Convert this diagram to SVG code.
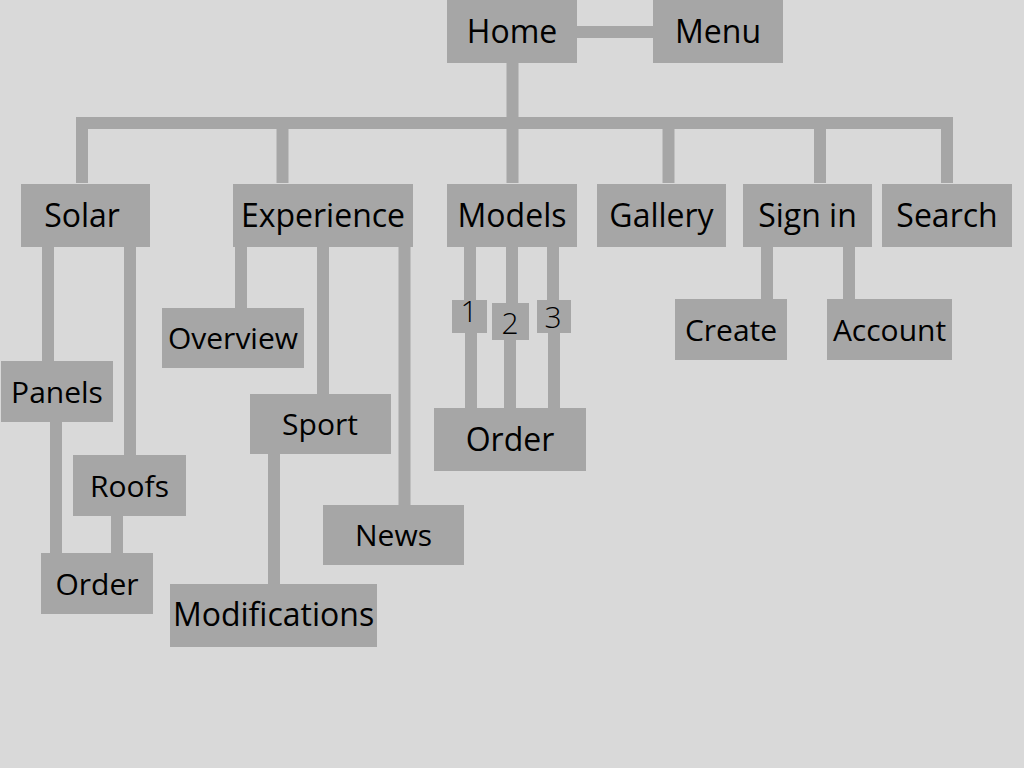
<svg xmlns="http://www.w3.org/2000/svg" width="1024" height="768" viewBox="0 0 1024 768">
<style>
.bg{fill:#d9d9d9}
.n rect{fill:#a6a6a6}
.n text{font-family:"Open Sans","Noto Sans","Liberation Sans",sans-serif;font-size:32px;fill:#000;text-anchor:middle}
.n text.s{font-size:30px}
.n text.num{font-weight:300;font-size:30px}
.c{stroke:#a6a6a6;stroke-width:12;fill:none;stroke-linecap:butt;stroke-linejoin:miter}
</style>
<rect class="bg" x="0" y="0" width="1024" height="768"/>
<g id="connectors" class="c">
<path d="M577,32 H653"/>
<path d="M512.5,63 V183"/>
<path d="M82,183 V123 H947 V183"/>
<path d="M282.5,123 V183"/>
<path d="M668.5,123 V183"/>
<path d="M820,123 V183"/>
<path d="M48,247 V361"/>
<path d="M130,247 V455"/>
<path d="M56,422 V553"/>
<path d="M117,516 V553"/>
<path d="M241,247 V308"/>
<path d="M323,247 V394"/>
<path d="M404.5,247 V505"/>
<path d="M274,454 V584"/>
<path d="M470,247 V300"/>
<path d="M471,333 V408"/>
<path d="M512,247 V303"/>
<path d="M510,340 V408"/>
<path d="M553,247 V300"/>
<path d="M554,333 V408"/>
<path d="M767,247 V299"/>
<path d="M849,247 V299"/>
</g>
<g id="home" class="n"><rect x="447" y="0" width="130" height="63"/><text x="512" y="43">Home</text></g>
<g id="menu" class="n"><rect x="653" y="0" width="130" height="63"/><text x="718" y="43">Menu</text></g>
<g id="solar" class="n"><rect x="21" y="184" width="129" height="63"/><text x="82" y="227">Solar</text></g>
<g id="experience" class="n"><rect x="233" y="184" width="180" height="63"/><text x="323" y="227">Experience</text></g>
<g id="models" class="n"><rect x="447" y="184" width="130" height="63"/><text x="512" y="227">Models</text></g>
<g id="gallery" class="n"><rect x="597" y="184" width="129" height="63"/><text x="661.5" y="227">Gallery</text></g>
<g id="signin" class="n"><rect x="743" y="184" width="129" height="63"/><text x="807.5" y="227">Sign in</text></g>
<g id="search" class="n"><rect x="882" y="184" width="130" height="63"/><text x="947" y="227">Search</text></g>
<g id="panels" class="n"><rect x="1" y="361" width="112" height="61"/><text class="s" x="57" y="403">Panels</text></g>
<g id="roofs" class="n"><rect x="73" y="455" width="113" height="61"/><text class="s" x="129.5" y="497">Roofs</text></g>
<g id="order-solar" class="n"><rect x="41" y="553" width="112" height="61"/><text class="s" x="97" y="595">Order</text></g>
<g id="overview" class="n"><rect x="162" y="308" width="142" height="60"/><text class="s" x="233" y="349">Overview</text></g>
<g id="sport" class="n"><rect x="250" y="394" width="141" height="60"/><text class="s" x="320" y="435">Sport</text></g>
<g id="news" class="n"><rect x="323" y="505" width="141" height="60"/><text class="s" x="393.5" y="546">News</text></g>
<g id="modifications" class="n"><rect x="170" y="584" width="207" height="63"/><text x="273.5" y="626">Modifications</text></g>
<g id="model1" class="n"><rect x="452" y="300" width="35" height="33"/><text class="num" x="469" y="322">1</text></g>
<g id="model2" class="n"><rect x="492" y="303" width="37" height="37"/><text class="num" x="510" y="334">2</text></g>
<g id="model3" class="n"><rect x="537" y="300" width="34" height="33"/><text class="num" x="553" y="328">3</text></g>
<g id="order-models" class="n"><rect x="434" y="408" width="152" height="63"/><text x="510" y="451">Order</text></g>
<g id="create" class="n"><rect x="675" y="299" width="112" height="61"/><text class="s" x="731" y="341">Create</text></g>
<g id="account" class="n"><rect x="827" y="299" width="125" height="61"/><text class="s" x="889.5" y="341">Account</text></g>
</svg>
